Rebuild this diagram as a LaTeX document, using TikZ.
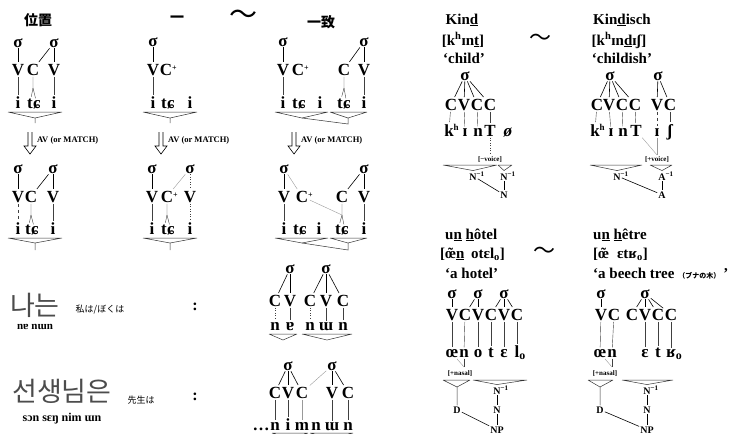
\documentclass[tikz,border=0pt]{standalone}
\usepackage{fontspec}
\setmainfont{Liberation Serif}
\newfontfamily\jpfont{Noto Sans CJK JP}
\newfontfamily\krfont{Noto Sans CJK KR}
\usetikzlibrary{positioning}

\begin{document}
\begin{tikzpicture}[
    x=1pt, y=-1pt,
    sylnode/.style={font=\bfseries\fontsize{17}{17}\selectfont, inner sep=1pt, anchor=base},
    segnode/.style={font=\bfseries\fontsize{17}{17}\selectfont, inner sep=1.5pt, anchor=base},
    phonnode/.style={font=\bfseries\fontsize{17}{17}\selectfont, inner sep=1.5pt, anchor=base},
    glossnode/.style={font=\bfseries\fontsize{15}{15}\selectfont, inner sep=0pt, anchor=base},
    featnode/.style={font=\bfseries\fontsize{7}{7}\selectfont, inner sep=1pt, anchor=base},
    catnode/.style={font=\bfseries\fontsize{10}{10}\selectfont, inner sep=1pt, anchor=base},
    rulenode/.style={font=\bfseries\fontsize{8.5}{8.5}\selectfont, inner sep=0pt, anchor=west},
    cjknode/.style={font=\jpfont\bfseries\fontsize{14}{14}\selectfont, inner sep=0pt},
    smalljp/.style={font=\jpfont\fontsize{9}{9}\selectfont, inner sep=0pt},
    hangulnode/.style={font=\krfont\fontsize{27}{27}\selectfont, text=black!70, inner sep=0pt},
    romnode/.style={font=\bfseries\fontsize{11}{11}\selectfont, inner sep=0pt, anchor=base},
    tildenode/.style={font=\jpfont\fontsize{22}{22}\selectfont, inner sep=0pt},
    colonnode/.style={font=\bfseries\fontsize{16}{16}\selectfont, inner sep=0pt},
    edge/.style={draw=black, line width=0.6pt},
    assoc/.style={draw=black!75, line width=0.4pt},
    newlink/.style={draw=gray!80, line width=0.4pt},
    delink/.style={draw=black!75, line width=0.5pt, dotted},
    brk/.style={draw=black!80, line width=0.5pt},
    hollow/.style={draw=black, line width=0.6pt, line join=miter}
]
    \useasboundingbox (0,0) rectangle (745,434);

    % Intestazione
    \node[cjknode] (hpos) at (38,20) {位置};
    \node[cjknode] (hone) at (177,19) {一};
    \node[tildenode, font=\jpfont\fontsize{28}{28}\selectfont] (htil) at (243,17) {〜};
    \node[cjknode] (hagr) at (321,22) {一致};

    % Colonna 1, riga 1
    \node[sylnode] (s11) at (18,47) {σ};
    \node[sylnode] (s12) at (54,47) {σ};
    \node[segnode] (v11) at (18,75) {V};
    \node[segnode] (c11) at (33,75) {C};
    \node[segnode] (v12) at (54,75) {V};
    \node[phonnode] (i11) at (18,108) {i};
    \node[phonnode] (t11) at (30,108) {t};
    \node[phonnode] (x11) at (37,108) {ɕ};
    \node[phonnode] (i12) at (54,108) {i};
    \coordinate (f11) at (33,88);
    \draw[edge] (s11) -- (v11);
    \draw[edge] (s12) -- (c11);
    \draw[edge] (s12) -- (v12);
    \draw[assoc] (v11) -- (i11);
    \draw[assoc] (c11) -- (f11) -- (t11);
    \draw[assoc] (f11) -- (x11);
    \draw[assoc] (v12) -- (i12);
    \draw[brk] (8,112) -- (62,112) (8,112) -- (35,118) -- (62,112) (35,118) -- (35,123);

    % Frecce AV
    \draw[hollow] (28,132) -- (28,146) -- (24,146) -- (30,154) -- (36,146) -- (32,146) -- (32,132);
    \node[rulenode] (av1) at (37,140) {AV (or MATCH)};
    \draw[hollow] (159,132) -- (159,146) -- (155,146) -- (161,154) -- (167,146) -- (163,146) -- (163,132);
    \node[rulenode] (av2) at (168,140) {AV (or MATCH)};
    \draw[hollow] (292,132) -- (292,146) -- (288,146) -- (294,154) -- (300,146) -- (296,146) -- (296,132);
    \node[rulenode] (av3) at (301,140) {AV (or MATCH)};

    % Colonna 1, riga 2
    \node[sylnode] (s21) at (18,173) {σ};
    \node[sylnode] (s22) at (53,173) {σ};
    \node[segnode] (v21) at (18,202) {V};
    \node[segnode] (c21) at (31,202) {C};
    \node[segnode] (v22) at (53,202) {V};
    \node[phonnode] (i21) at (18,234) {i};
    \node[phonnode] (t21) at (28,234) {t};
    \node[phonnode] (x21) at (35,234) {ɕ};
    \node[phonnode] (i22) at (53,234) {i};
    \coordinate (f21) at (31,215);
    \draw[edge] (s21) -- (v21);
    \draw[edge] (s22) -- (c21);
    \draw[edge] (s22) -- (v22);
    \draw[assoc, dashed] (v21) -- (i21);
    \draw[assoc] (c21) -- (f21) -- (t21);
    \draw[assoc] (f21) -- (x21);
    \draw[assoc] (v22) -- (i22);
    \draw[brk] (8,238) -- (62,238) (8,238) -- (35,243) -- (62,238) (35,243) -- (35,250);

    % Colonna 2, riga 1
    \node[sylnode] (s31) at (153,46) {σ};
    \node[segnode] (v31) at (153,75) {V};
    \node[segnode] (c31) at (166,75) {C\rlap{\fontsize{8}{8}\selectfont\raisebox{5pt}{+}}};
    \node[phonnode] (i31) at (153,108) {i};
    \node[phonnode] (t31) at (164,108) {t};
    \node[phonnode] (x31) at (171,108) {ɕ};
    \node[phonnode] (i32) at (190,108) {i};
    \draw[edge] (s31) -- (v31);
    \draw[assoc] (v31) -- (i31);
    \draw[brk] (143,112) -- (197,112) (143,112) -- (170,118) -- (197,112) (170,118) -- (170,123);

    % Colonna 2, riga 2
    \node[sylnode] (s41) at (152,173) {σ};
    \node[sylnode] (s42) at (190,173) {σ};
    \node[segnode] (v41) at (152,202) {V};
    \node[segnode] (c41) at (167,202) {C\rlap{\fontsize{8}{8}\selectfont\raisebox{5pt}{+}}};
    \node[segnode] (v42) at (190,202) {V};
    \node[phonnode] (i41) at (152,234) {i};
    \node[phonnode] (t41) at (164,234) {t};
    \node[phonnode] (x41) at (171,234) {ɕ};
    \node[phonnode] (i42) at (190,234) {i};
    \coordinate (f41) at (167,215);
    \draw[edge] (s41) -- (v41);
    \draw[newlink] (s42) -- (c41);
    \draw[delink] (s42) -- (v42);
    \draw[assoc] (v41) -- (i41);
    \draw[assoc] (c41) -- (f41) -- (t41);
    \draw[assoc] (f41) -- (x41);
    \draw[delink] (v42) -- (i42);
    \draw[brk] (143,238) -- (197,238) (143,238) -- (170,243) -- (197,238) (170,243) -- (170,250);

    % Colonna 3, riga 1
    \node[sylnode] (s51) at (283,46) {σ};
    \node[sylnode] (s52) at (364,46) {σ};
    \node[segnode] (v51) at (283,75) {V};
    \node[segnode] (c51) at (298,75) {C\rlap{\fontsize{8}{8}\selectfont\raisebox{5pt}{+}}};
    \node[segnode] (c52) at (344,75) {C};
    \node[segnode] (v52) at (364,75) {V};
    \node[phonnode] (i51) at (283,108) {i};
    \node[phonnode] (t51) at (295,108) {t};
    \node[phonnode] (x51) at (302,108) {ɕ};
    \node[phonnode] (i52) at (320,108) {i};
    \node[phonnode] (t52) at (340,108) {t};
    \node[phonnode] (x52) at (347,108) {ɕ};
    \node[phonnode] (i53) at (364,108) {i};
    \coordinate (f52) at (344,88);
    \draw[edge] (s51) -- (v51);
    \draw[edge] (s52) -- (c52);
    \draw[edge] (s52) -- (v52);
    \draw[assoc] (v51) -- (i51);
    \draw[assoc] (c52) -- (f52) -- (t52);
    \draw[assoc] (f52) -- (x52);
    \draw[assoc] (v52) -- (i53);
    \draw[brk] (275,112) -- (328,112) (275,112) -- (302,118) -- (328,112);
    \draw[brk] (330,112) -- (367,112) (330,112) -- (348,118) -- (367,112) (348,118) -- (348,124) -- (302,118);

    % Colonna 3, riga 2
    \node[sylnode] (s61) at (284,173) {σ};
    \node[sylnode] (s62) at (364,173) {σ};
    \node[segnode] (v61) at (284,202) {V};
    \node[segnode] (c61) at (302,202) {C\rlap{\fontsize{8}{8}\selectfont\raisebox{5pt}{+}}};
    \node[segnode] (c62) at (342,202) {C};
    \node[segnode] (v62) at (364,202) {V};
    \node[phonnode] (i61) at (284,234) {i};
    \node[phonnode] (t61) at (296,234) {t};
    \node[phonnode] (x61) at (303,234) {ɕ};
    \node[phonnode] (i62) at (319,234) {i};
    \node[phonnode] (t62) at (338,234) {t};
    \node[phonnode] (x62) at (345,234) {ɕ};
    \node[phonnode] (i63) at (364,234) {i};
    \coordinate (f62) at (342,215);
    \draw[edge] (s61) -- (v61);
    \draw[newlink] (s61) -- (c61);
    \draw[edge] (s62) -- (c62);
    \draw[edge] (s62) -- (v62);
    \draw[assoc] (v61) -- (i61);
    \draw[assoc] (c62) -- (f62) -- (t62);
    \draw[assoc] (f62) -- (x62);
    \draw[newlink] (c61) -- (f62);
    \draw[assoc] (v62) -- (i63);
    \draw[brk] (275,238) -- (328,238) (275,238) -- (302,243) -- (328,238);
    \draw[brk] (330,238) -- (367,238) (330,238) -- (348,243) -- (367,238) (348,243) -- (348,250) -- (302,243);

    % Coreano: 나는
    \node[hangulnode] (kr1) at (35,305) {나는};
    \node[smalljp] (jp1) at (100,310) {私は/ぼくは};
    \node[romnode] (rom1) at (35,329) {nɐ nɯn};
    \node[colonnode] (cl1) at (195,307) {:};
    \node[sylnode] (s71) at (290,273) {σ};
    \node[sylnode] (s72) at (326,273) {σ};
    \node[segnode] (c71) at (275,306) {C};
    \node[segnode] (v71) at (290,306) {V};
    \node[segnode] (c72) at (310,306) {C};
    \node[segnode] (v72) at (326,306) {V};
    \node[segnode] (c73) at (343,306) {C};
    \node[phonnode] (p71) at (275,330) {n};
    \node[phonnode] (p72) at (290,330) {ɐ};
    \node[phonnode] (p73) at (310,330) {n};
    \node[phonnode] (p74) at (326,330) {ɯ};
    \node[phonnode] (p75) at (343,330) {n};
    \draw[edge] (s71) -- (c71);
    \draw[edge] (s71) -- (v71);
    \draw[edge] (s72) -- (c72);
    \draw[edge] (s72) -- (v72);
    \draw[edge] (s72) -- (c73);
    \draw[delink] (c71) -- (p71);
    \draw[assoc] (v71) -- (p72);
    \draw[delink] (c72) -- (p73);
    \draw[assoc] (v72) -- (p74);
    \draw[assoc] (c73) -- (p75);
    \draw[brk] (269,334) -- (297,334) (269,334) -- (283,340) -- (297,334);
    \draw[brk] (302,334) -- (352,334) (302,334) -- (327,340) -- (352,334);

    % Coreano: 선생님은
    \node[hangulnode] (kr2) at (62,391) {선생님은};
    \node[smalljp] (jp2) at (141,400) {先生は};
    \node[romnode, font=\bfseries\fontsize{12}{12}\selectfont] (rom2) at (62,421) {sɔn sɛŋ nim ɯn};
    \node[colonnode] (cl2) at (195,397) {:};
    \node[sylnode] (s81) at (288,370) {σ};
    \node[sylnode] (s82) at (332,370) {σ};
    \node[segnode] (c81) at (275,398) {C};
    \node[segnode] (v81) at (288,398) {V};
    \node[segnode] (c82) at (302,398) {C};
    \node[segnode] (v82) at (332,398) {V};
    \node[segnode] (c83) at (348,398) {C};
    \node[phonnode] (p80) at (261,430) {…};
    \node[phonnode] (p81) at (275,430) {n};
    \node[phonnode] (p82) at (288,430) {i};
    \node[phonnode] (p83) at (302,430) {m};
    \node[phonnode] (p84) at (316,430) {n};
    \node[phonnode] (p85) at (332,430) {ɯ};
    \node[phonnode] (p86) at (348,430) {n};
    \draw[edge] (s81) -- (c81);
    \draw[edge] (s81) -- (v81);
    \draw[edge] (s81) -- (c82);
    \draw[edge] (s82) -- (v82);
    \draw[edge] (s82) -- (c83);
    \draw[newlink] (s82) -- (c82);
    \draw[assoc] (c81) -- (p81);
    \draw[assoc] (v81) -- (p82);
    \draw[newlink] (c82) -- (p83);
    \draw[assoc] (v82) -- (p85);
    \draw[assoc] (c83) -- (p86);
    \draw[brk] (272,433) -- (308,433) (272,433) -- (290,439) -- (308,433);
    \draw[brk] (310,433) -- (353,433) (310,433) -- (331,439) -- (353,433);

    % Tedesco: Kind
    \node[glossnode] (kindw) at (462,24) {Kin\underline{d}};
    \node[glossnode] (kindp) at (463,45) {[k\textsuperscript{h}ɪn\underline{t}]};
    \node[glossnode] (kindm) at (464,63) {‘child’};
    \node[tildenode] (til2) at (540,40) {〜};
    \node[sylnode] (ks1) at (465,80) {σ};
    \node[segnode] (kc1) at (451,110) {C};
    \node[segnode] (kv1) at (464,110) {V};
    \node[segnode] (kc2) at (477,110) {C};
    \node[segnode] (kc3) at (490,110) {C};
    \node[phonnode] (kk1) at (449,136) {k\rlap{\fontsize{9}{9}\selectfont\raisebox{6pt}{h}}};
    \node[phonnode] (ki1) at (465,136) {ɪ};
    \node[phonnode] (kn1) at (478,136) {n};
    \node[phonnode] (kt1) at (490,136) {T};
    \node[phonnode] (kz1) at (508,136) {\textit{ø}};
    \draw[edge] (ks1) -- (kc1);
    \draw[edge] (ks1) -- (kv1);
    \draw[edge] (ks1) -- (kc2);
    \draw[edge] (ks1) -- (kc3);
    \draw[assoc] (kc1) -- (kk1);
    \draw[assoc] (kv1) -- (ki1);
    \draw[assoc] (kc2) -- (kn1);
    \draw[assoc] (kc3) -- (kt1);
    \node[featnode] (kf1) at (490,161) {[−voice]};
    \draw[delink] (kt1) -- (kf1);
    \node[catnode] (kN1) at (473,180) {N\rlap{\textsuperscript{−1}}};
    \node[catnode] (kN2) at (504,180) {N\rlap{\textsuperscript{−1}}};
    \node[catnode] (kN3) at (504,198) {N};
    \draw[brk] (443,165) -- (497,165) (443,165) -- (kN1.north) -- (497,165);
    \draw[brk] (498,165) -- (512,165) (498,165) -- (kN2.north) -- (512,165);
    \draw[edge] (kN2) -- (kN3);
    \draw[edge] (kN1) -- (kN3);

    % Tedesco: Kindisch
    \node[glossnode] (kdw) at (622,24) {Kin\underline{d}isch};
    \node[glossnode] (kdp) at (619,45) {[k\textsuperscript{h}ɪn\underline{d}ɪʃ]};
    \node[glossnode] (kdm) at (622,63) {‘childish’};
    \node[sylnode] (ds1) at (610,80) {σ};
    \node[sylnode] (ds2) at (658,80) {σ};
    \node[segnode] (dc1) at (597,110) {C};
    \node[segnode] (dv1) at (609,110) {V};
    \node[segnode] (dc2) at (622,110) {C};
    \node[segnode] (dc3) at (635,110) {C};
    \node[segnode] (dv2) at (657,110) {V};
    \node[segnode] (dc4) at (670,110) {C};
    \node[phonnode] (dk1) at (595,136) {k\rlap{\fontsize{9}{9}\selectfont\raisebox{6pt}{h}}};
    \node[phonnode] (di1) at (611,136) {ɪ};
    \node[phonnode] (dn1) at (623,136) {n};
    \node[phonnode] (dt1) at (636,136) {T};
    \node[phonnode] (di2) at (657,136) {ɪ};
    \node[phonnode] (dsh) at (670,136) {ʃ};
    \draw[edge] (ds1) -- (dc1);
    \draw[edge] (ds1) -- (dv1);
    \draw[edge] (ds1) -- (dc2);
    \draw[edge] (ds1) -- (dc3);
    \draw[edge] (ds2) -- (dv2);
    \draw[edge] (ds2) -- (dc4);
    \draw[assoc] (dc1) -- (dk1);
    \draw[assoc] (dv1) -- (di1);
    \draw[assoc] (dc2) -- (dn1);
    \draw[assoc] (dc3) -- (dt1);
    \draw[assoc, dashed] (dv2) -- (di2);
    \draw[assoc] (dc4) -- (dsh);
    \node[featnode] (df1) at (657,161) {[+voice]};
    \draw[newlink] (dt1) -- (df1.north);
    \draw[newlink] (di2) -- (df1.north);
    \node[catnode] (dN1) at (617,180) {N\rlap{\textsuperscript{−1}}};
    \node[catnode] (dA1) at (662,180) {A\rlap{\textsuperscript{−1}}};
    \node[catnode] (dA) at (662,198) {A};
    \draw[brk] (590,165) -- (642,165) (590,165) -- (dN1.north) -- (642,165);
    \draw[brk] (650,165) -- (672,165) (650,165) -- (dA1.north) -- (672,165);
    \draw[edge] (dA1) -- (dA);
    \draw[edge] (dN1) -- (dA);

    % Francese: un hôtel
    \node[glossnode, anchor=base west] (hw) at (445,239) {u\underline{n} \underline{h}ôtel};
    \node[glossnode, anchor=base west] (hp) at (440,258) {[\ooalign{œ\cr\hidewidth˜\hidewidth\cr}\underline{n}\hspace{3pt} otɛl\textsubscript{o}]};
    \node[glossnode, anchor=base west] (hm) at (445,278) {‘a hotel’};
    \node[tildenode] (til3) at (544,253) {〜};
    \node[sylnode] (hs1) at (452,298) {σ};
    \node[sylnode] (hs2) at (478,298) {σ};
    \node[sylnode] (hs3) at (504,298) {σ};
    \node[segnode] (hv1) at (452,320) {V};
    \node[segnode] (hc1) at (465,320) {C};
    \node[segnode] (hv2) at (478,320) {V};
    \node[segnode] (hc2) at (491,320) {C};
    \node[segnode] (hv3) at (504,320) {V};
    \node[segnode] (hc3) at (517,320) {C};
    \node[phonnode] (ho1) at (452,357) {œ};
    \node[phonnode] (hn1) at (464,357) {n};
    \node[phonnode] (ho2) at (478,357) {o};
    \node[phonnode] (ht1) at (491,357) {t};
    \node[phonnode] (he1) at (504,357) {ɛ};
    \node[phonnode] (hl1) at (517,357) {l\rlap{\textsubscript{o}}};
    \draw[edge] (hs1) -- (hv1);
    \draw[edge] (hs2) -- (hc1);
    \draw[edge] (hs2) -- (hv2);
    \draw[edge] (hs3) -- (hc2);
    \draw[edge] (hs3) -- (hv3);
    \draw[edge] (hs3) -- (hc3);
    \draw[assoc] (hv1) -- (ho1);
    \draw[assoc] (hc1) -- (hn1);
    \draw[assoc] (hv2) -- (ho2);
    \draw[assoc] (hc2) -- (ht1);
    \draw[assoc] (hv3) -- (he1);
    \draw[assoc] (hc3) -- (hl1);
    \node[featnode] (hf1) at (460,375) {[+nasal]};
    \coordinate (hj) at (464,367);
    \draw[newlink] (ho1) -- (hj);
    \draw[assoc] (hn1) -- (hj);
    \node[catnode] (hD) at (457,413) {D};
    \node[catnode] (hN1) at (497,394) {N\rlap{\textsuperscript{−1}}};
    \node[catnode] (hN) at (497,413) {N};
    \node[catnode] (hNP) at (497,433) {NP};
    \draw[brk] (443,380) -- (470,380) (443,380) -- (457,387) -- (470,380) (457,387) -- (hD);
    \draw[brk] (473,380) -- (527,380) (473,380) -- (hN1.north) -- (527,380);
    \draw[edge] (hN1) -- (hN);
    \draw[edge] (hN) -- (hNP);
    \draw[edge] (hD) -- (hNP);

    % Francese: un hêtre
    \node[glossnode, anchor=base west] (ew) at (593,239) {u\underline{n} \underline{h}être};
    \node[glossnode, anchor=base west] (ep) at (593,258) {[\ooalign{œ\cr\hidewidth˜\hidewidth\cr}\hspace{8pt}ɛtʁ\textsubscript{o}]};
    \node[glossnode, anchor=base west] (em) at (593,278) {‘a beech tree {\jpfont\fontsize{7}{7}\selectfont （ブナの木）}\hspace{3pt}’};
    \node[sylnode] (es1) at (601,298) {σ};
    \node[sylnode] (es2) at (645,298) {σ};
    \node[segnode] (ev1) at (601,320) {V};
    \node[segnode] (ec1) at (614,320) {C};
    \node[segnode] (ec2) at (632,320) {C};
    \node[segnode] (ev2) at (645,320) {V};
    \node[segnode] (ec3) at (658,320) {C};
    \node[segnode] (ec4) at (671,320) {C};
    \node[phonnode] (eo1) at (600,357) {œ};
    \node[phonnode] (en1) at (612,357) {n};
    \node[phonnode] (ee1) at (645,357) {ɛ};
    \node[phonnode] (et1) at (658,357) {t};
    \node[phonnode] (er1) at (671,357) {ʁ\rlap{\textsubscript{o}}};
    \draw[edge] (es1) -- (ev1);
    \draw[edge] (es2) -- (ec2);
    \draw[edge] (es2) -- (ev2);
    \draw[edge] (es2) -- (ec3);
    \draw[edge] (es2) -- (ec4);
    \draw[assoc] (ev1) -- (eo1);
    \draw[assoc] (ec1) -- (en1);
    \draw[assoc] (ev2) -- (ee1);
    \draw[assoc] (ec3) -- (et1);
    \draw[assoc] (ec4) -- (er1);
    \node[featnode] (ef1) at (605,375) {[+nasal]};
    \coordinate (ej) at (612,367);
    \draw[newlink] (eo1) -- (ej);
    \draw[assoc] (en1) -- (ej);
    \node[catnode] (eD) at (600,413) {D};
    \node[catnode] (eN1) at (647,394) {N\rlap{\textsuperscript{−1}}};
    \node[catnode] (eN) at (647,413) {N};
    \node[catnode] (eNP) at (647,433) {NP};
    \draw[brk] (588,380) -- (613,380) (588,380) -- (600,387) -- (613,380) (600,387) -- (eD);
    \draw[brk] (622,380) -- (673,380) (622,380) -- (eN1.north) -- (673,380);
    \draw[edge] (eN1) -- (eN);
    \draw[edge] (eN) -- (eNP);
    \draw[edge] (eD) -- (eNP);
\end{tikzpicture}
\end{document}
